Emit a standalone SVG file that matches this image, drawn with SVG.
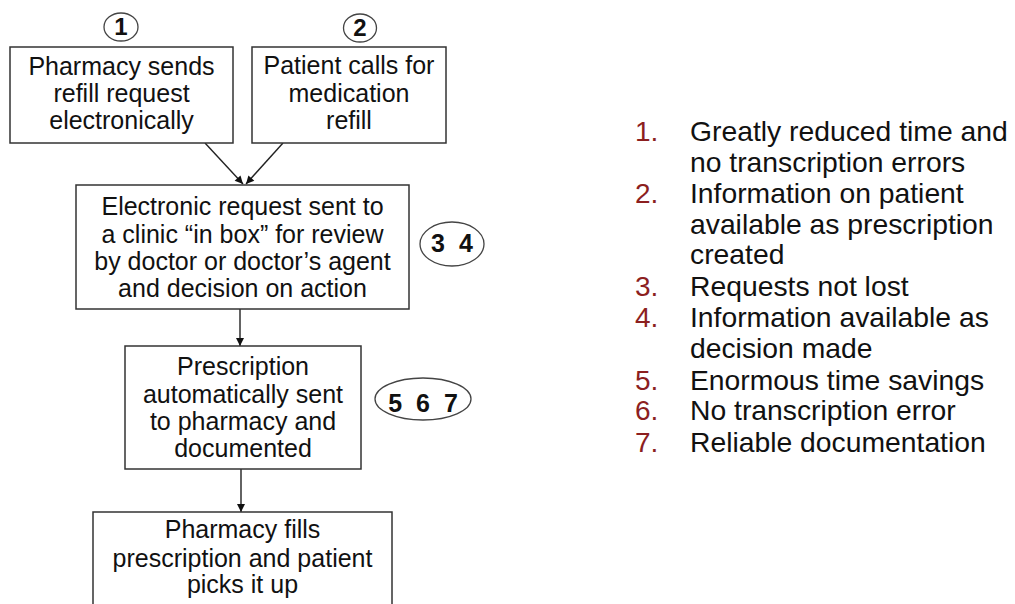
<svg xmlns="http://www.w3.org/2000/svg" width="1015" height="604" viewBox="0 0 1015 604">
<defs>
<style>
.box{fill:#fff;stroke:#333;stroke-width:1.5}
.oval{fill:#fff;stroke:#444;stroke-width:1.3}
.t{font-family:"Liberation Sans",Arial,sans-serif;font-size:25px;fill:#111;text-anchor:middle}
.n{font-family:"Liberation Sans",Arial,sans-serif;font-size:25px;font-weight:bold;fill:#111;text-anchor:middle;word-spacing:7px}
.c{font-family:"Liberation Sans",Arial,sans-serif;font-size:24px;font-weight:bold;fill:#111;text-anchor:middle}
.li{font-family:"Liberation Sans",Arial,sans-serif;font-size:28.3px;fill:#111}
.num{font-family:"Liberation Sans",Arial,sans-serif;font-size:28px;fill:#8c1f1f}
.edge{stroke:#222;stroke-width:1.4;fill:none;marker-end:url(#arr)}
</style>
<marker id="arr" viewBox="0 0 10 10" refX="10" refY="5" markerWidth="9" markerHeight="8" orient="auto" markerUnits="userSpaceOnUse">
<path d="M0,0 L10,5 L0,10 z" fill="#111"/>
</marker>
</defs>
<rect width="1015" height="604" fill="#fff"/>

<g id="connectors">
<line class="edge" x1="205" y1="143" x2="243" y2="184"/>
<line class="edge" x1="283" y1="143" x2="246" y2="184"/>
<line class="edge" x1="240" y1="309" x2="240" y2="346"/>
<line class="edge" x1="241" y1="469" x2="241" y2="512"/>
</g>

<g id="badge1">
<ellipse class="oval" cx="121" cy="27" rx="17" ry="14"/>
<text class="c" x="121" y="35">1</text>
</g>
<g id="badge2">
<ellipse class="oval" cx="360" cy="28" rx="16.5" ry="14"/>
<text class="c" x="360" y="36">2</text>
</g>

<g id="node-pharmacy-sends">
<rect class="box" x="10" y="47" width="223" height="96"/>
<text class="t" x="121.5" y="75">Pharmacy sends</text>
<text class="t" x="121.5" y="102">refill request</text>
<text class="t" x="121.5" y="129">electronically</text>
</g>

<g id="node-patient-calls">
<rect class="box" x="252" y="47" width="194" height="96"/>
<text class="t" x="349" y="74">Patient calls for</text>
<text class="t" x="349" y="102">medication</text>
<text class="t" x="349" y="129">refill</text>
</g>

<g id="node-electronic-request">
<rect class="box" x="76" y="185" width="333" height="124"/>
<text class="t" x="242.5" y="215">Electronic request sent to</text>
<text class="t" x="242.5" y="243">a clinic “in box” for review</text>
<text class="t" x="242.5" y="270">by doctor or doctor’s agent</text>
<text class="t" x="242.5" y="297">and decision on action</text>
</g>

<g id="badge34">
<ellipse class="oval" cx="452" cy="244" rx="32" ry="22"/>
<text class="n" x="452" y="252">3 4</text>
</g>

<g id="node-prescription">
<rect class="box" x="125" y="346" width="236" height="123"/>
<text class="t" x="243" y="375">Prescription</text>
<text class="t" x="243" y="403">automatically sent</text>
<text class="t" x="243" y="430">to pharmacy and</text>
<text class="t" x="243" y="457">documented</text>
</g>

<g id="badge567">
<ellipse class="oval" cx="423" cy="399" rx="48" ry="21"/>
<text class="n" x="423" y="412">5 6 7</text>
</g>

<g id="node-pharmacy-fills">
<rect class="box" x="93" y="512" width="299" height="110"/>
<text class="t" x="242.5" y="538">Pharmacy fills</text>
<text class="t" x="242.5" y="567">prescription and patient</text>
<text class="t" x="242.5" y="593">picks it up</text>
</g>

<g id="benefits">
<text class="num" x="635" y="141">1.</text>
<text class="li" x="690" y="141">Greatly reduced time and</text>
<text class="li" x="690" y="172">no transcription errors</text>
<text class="num" x="635" y="203">2.</text>
<text class="li" x="690" y="203">Information on patient</text>
<text class="li" x="690" y="234">available as prescription</text>
<text class="li" x="690" y="264">created</text>
<text class="num" x="635" y="296">3.</text>
<text class="li" x="690" y="296">Requests not lost</text>
<text class="num" x="635" y="327">4.</text>
<text class="li" x="690" y="327">Information available as</text>
<text class="li" x="690" y="358">decision made</text>
<text class="num" x="635" y="390">5.</text>
<text class="li" x="690" y="390">Enormous time savings</text>
<text class="num" x="635" y="420">6.</text>
<text class="li" x="690" y="420">No transcription error</text>
<text class="num" x="635" y="452">7.</text>
<text class="li" x="690" y="452">Reliable documentation</text>
</g>
</svg>
